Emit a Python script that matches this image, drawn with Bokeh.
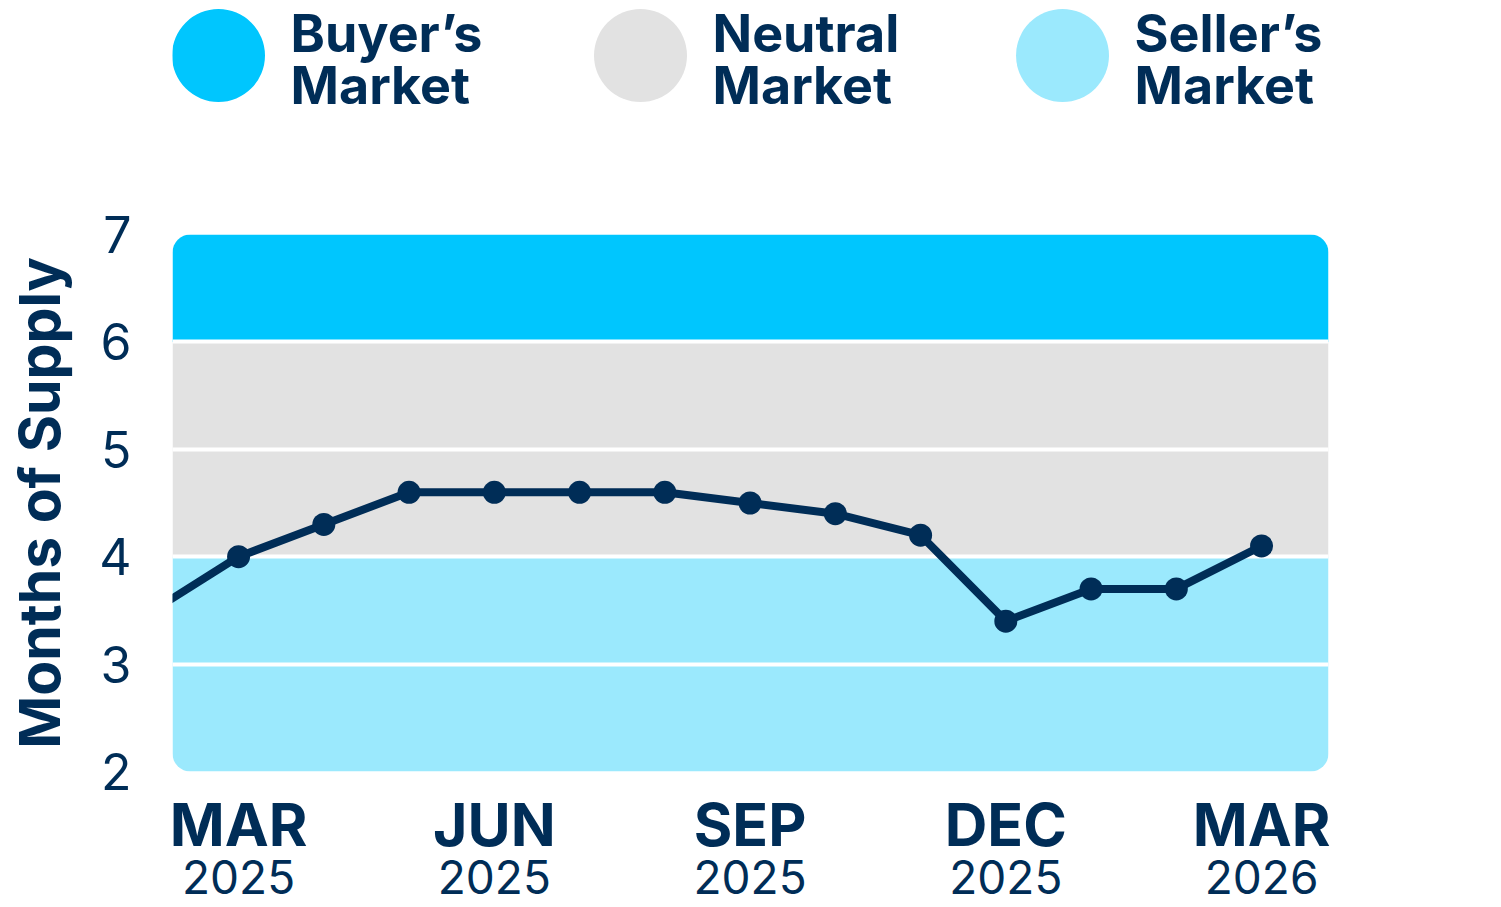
from bokeh.plotting import figure
from bokeh.layouts import column
from bokeh.models import Range1d, FixedTicker, LinearAxis
from bokeh.core.properties import value
from bokeh.embed import file_html
from bokeh.resources import INLINE

# ---------------- data ----------------
months = ["FEB 2025", "MAR 2025", "APR 2025", "MAY 2025", "JUN 2025", "JUL 2025",
          "AUG 2025", "SEP 2025", "OCT 2025", "NOV 2025", "DEC 2025", "JAN 2026",
          "FEB 2026", "MAR 2026"]
supply = [3.5, 4.0, 4.3, 4.6, 4.6, 4.6, 4.6, 4.5, 4.4, 4.2, 3.4, 3.7, 3.7, 4.1]

tick_positions = [1, 4, 7, 10, 13]
tick_months = ["MAR", "JUN", "SEP", "DEC", "MAR"]
tick_years = ["2025", "2025", "2025", "2025", "2026"]
y_ticks = [2, 3, 4, 5, 6, 7]
y_title = "Months of Supply"

band_names = ["Seller’s Market", "Neutral Market", "Buyer’s Market"]
band_bottoms = [2, 4, 6]
band_tops = [4, 6, 7]
band_lines = [3, 4, 5, 6]

legend_labels = ["Buyer’s\nMarket", "Neutral\nMarket", "Seller’s\nMarket"]

# ---------------- style ----------------
NAVY = "#002D57"
BUYER = "#00C6FE"
NEUTRAL = "#E2E2E2"
SELLER = "#9BE9FD"
band_colors = [SELLER, NEUTRAL, BUYER]
legend_colors = [BUYER, NEUTRAL, SELLER]
FONT = "Inter"

W = 1420
FRAME_L, FRAME_R = 172, 1328

# ---------------- legend figure (frame aligned with main frame) ----------------
LH = 150
leg = figure(width=W, height=LH, x_range=Range1d(FRAME_L, FRAME_R),
             y_range=Range1d(LH, 0),
             output_backend="svg", toolbar_location=None,
             min_border_left=FRAME_L, min_border_right=W - FRAME_R,
             min_border_top=0, min_border_bottom=0, outline_line_color=None)
leg.axis.visible = False
leg.grid.visible = False
leg_x0, leg_step = 218, 422
cx = [leg_x0 + i * leg_step for i in range(len(legend_labels))]
leg.scatter(x=cx, y=[55] * len(cx), size=93, color=legend_colors, line_color=None)
leg.text(x=[c + 72 for c in cx], y=[59] * len(cx), text=legend_labels,
         text_font=value(FONT), text_font_style="bold", text_font_size="52px",
         text_color=NAVY, text_baseline="middle", text_align="left",
         text_line_height=0.84)

# ---------------- main figure ----------------
MH = 757
p = figure(width=W, height=MH,
           x_range=Range1d(0.225, 13.785), y_range=Range1d(2, 7),
           output_backend="svg", toolbar_location=None,
           min_border_left=FRAME_L, min_border_right=W - FRAME_R,
           min_border_top=84, min_border_bottom=136,
           outline_line_color=None)
p.grid.visible = False

xs, xe = p.x_range.start, p.x_range.end
radii = [(0, 0, 18, 18), 0, (18, 18, 0, 0)]
for b, t, c, r in zip(band_bottoms, band_tops, band_colors, radii):
    p.quad(left=xs, right=xe, bottom=b, top=t, fill_color=c, line_color=None,
           border_radius=r)
p.hspan(y=band_lines, line_color="white", line_width=4)

x = list(range(len(months)))
p.line(x, supply, line_color=NAVY, line_width=8)
p.scatter(x, supply, size=23, fill_color=NAVY, line_color=None)

# y axis
ya = p.yaxis[0]
ya.ticker = FixedTicker(ticks=y_ticks)
ya.axis_line_color = None
ya.major_tick_line_color = None
ya.minor_tick_line_color = None
ya.major_tick_out = 0
ya.major_tick_in = 0
ya.major_label_standoff = 41
ya.major_label_text_font = FONT
ya.major_label_text_font_size = "50px"
ya.major_label_text_color = NAVY
ya.axis_label = y_title
ya.axis_label_text_font = FONT
ya.axis_label_text_font_style = "bold"
ya.axis_label_text_font_size = "57px"
ya.axis_label_text_color = NAVY
ya.axis_label_standoff = 22

def style_x(ax, labels, size, bold, standoff):
    ax.ticker = FixedTicker(ticks=tick_positions)
    ax.major_label_overrides = {t: l for t, l in zip(tick_positions, labels)}
    ax.axis_line_color = None
    ax.major_tick_line_color = None
    ax.minor_tick_line_color = None
    ax.major_tick_out = 0
    ax.major_tick_in = 0
    ax.major_label_standoff = standoff
    ax.major_label_text_font = FONT
    ax.major_label_text_font_style = "bold" if bold else "normal"
    ax.major_label_text_font_size = size
    ax.major_label_text_color = NAVY

style_x(p.xaxis[0], tick_months, "59px", True, 17)
year_axis = LinearAxis()
p.add_layout(year_axis, "below")
style_x(year_axis, tick_years, "46px", False, -3)

layout = column(leg, p, spacing=0)
open("out.html", "w").write(file_html(layout, INLINE))
